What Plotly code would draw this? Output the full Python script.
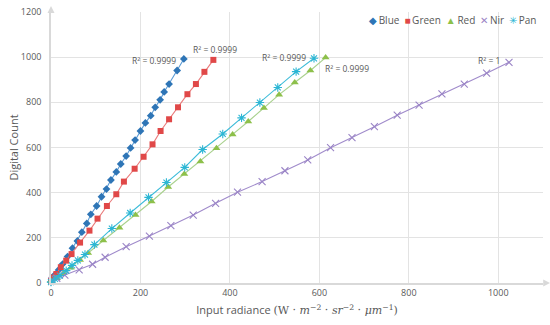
import plotly.graph_objects as go

# ---- data ----
blue_x = [0, 2, 8, 17, 26, 37, 48, 59, 69, 80, 89, 102, 113, 124, 134, 146, 156, 168, 178, 188, 200, 211, 223, 233, 244, 253, 264, 282, 297]
blue_y = [5, 18, 35, 58, 84, 117, 154, 186, 225, 264, 304, 341, 382, 416, 456, 492, 527, 562, 598, 633, 673, 709, 741, 778, 811, 846, 881, 941, 992]

green_x = [0, 6, 12, 22, 34, 46, 65, 86, 104, 125, 146, 163, 187, 207, 227, 245, 264, 284, 305, 324, 343, 363]
green_y = [9, 24, 40, 70, 99, 128, 179, 232, 285, 341, 393, 449, 506, 559, 614, 673, 725, 778, 836, 881, 935, 988]

red_x = [0, 13, 28, 44, 65, 83, 117, 153, 189, 225, 262, 298, 334, 370, 406, 441, 476, 510, 545, 580, 614]
red_y = [9, 21, 43, 68, 102, 133, 188, 245, 301, 361, 425, 483, 538, 597, 658, 715, 775, 834, 888, 941, 998]

nir_x = [2, 13, 31, 63, 93, 121, 168, 220, 268, 318, 368, 417, 472, 523, 574, 625, 673, 723, 774, 823, 874, 924, 974, 1024]
nir_y = [10, 21, 35, 58, 83, 114, 161, 208, 254, 301, 353, 402, 449, 497, 545, 599, 644, 692, 743, 788, 837, 881, 929, 977]

pan_x = [0, 9, 20, 34, 47, 60, 76, 97, 136, 177, 218, 258, 299, 339, 384, 426, 467, 507, 548, 588]
pan_y = [4, 18, 33, 55, 78, 100, 126, 170, 241, 310, 379, 445, 512, 591, 660, 731, 799, 866, 936, 995]

series_names = ["Blue", "Green", "Red", "Nir", "Pan"]
r2_labels = ["R² = 0.9999", "R² = 0.9999", "R² = 0.9999", "R² = 1", "R² = 0.9999"]
legend_glyphs = ["◆", "■", "▲", "✕", "✳"]

x_ticks = [0, 200, 400, 600, 800, 1000]
y_ticks = [0, 200, 400, 600, 800, 1000, 1200]

# ---- styles ----
styles = {
    "Blue":  dict(color="#2E75B6", line="#5B9BD5", symbol="diamond", size=6, lw=0),
    "Green": dict(color="#E04848", line="#EA7B7B", symbol="square", size=6, lw=0),
    "Red":   dict(color="#8DC04A", line="#A9D18E", symbol="triangle-up", size=7, lw=0),
    "Nir":   dict(color="#9A84C6", line="#A08BCB", symbol="x-thin-open", size=7, lw=1.1),
    "Pan":   dict(color="#2CB6D4", line="#3DBCD9", symbol="asterisk-open", size=7, lw=1.1),
}
data = {
    "Blue": (blue_x, blue_y),
    "Green": (green_x, green_y),
    "Red": (red_x, red_y),
    "Nir": (nir_x, nir_y),
    "Pan": (pan_x, pan_y),
}

fig = go.Figure()
for name in series_names:
    xs, ys = data[name]
    st = styles[name]
    fig.add_trace(go.Scatter(
        x=xs, y=ys, name=name, mode="lines+markers", showlegend=False,
        line=dict(color=st["line"], width=1.1),
        marker=dict(symbol=st["symbol"], size=st["size"], color=st["color"],
                    line=dict(color=st["color"], width=st["lw"])),
        cliponaxis=False,
    ))

# R² labels placed relative to each series' last point
label_pos = {
    "Blue":  dict(xanchor="right", yanchor="middle", xshift=-6, yshift=-2),
    "Green": dict(xanchor="center", yanchor="bottom", xshift=2, yshift=3),
    "Red":   dict(xanchor="left", yanchor="top", xshift=-3, yshift=-3),
    "Nir":   dict(xanchor="right", yanchor="middle", xshift=-7, yshift=2),
    "Pan":   dict(xanchor="right", yanchor="middle", xshift=-6, yshift=1),
}
annotations = []
for name, lab in zip(series_names, r2_labels):
    xs, ys = data[name]
    annotations.append(dict(x=xs[-1], y=ys[-1], xref="x", yref="y", text=lab,
                            showarrow=False, font=dict(size=8.5, color="#595959"),
                            **label_pos[name]))

# compact legend (Excel style) as one text line
legend_text = "\u2002".join(
    f'<span style="color:{styles[n]["color"]}">{g}</span>\u2009{n}'
    for n, g in zip(series_names, legend_glyphs)
)
annotations.append(dict(x=1.0, y=1.0, xref="paper", yref="paper", xanchor="right",
                        yanchor="middle", yshift=-8, xshift=-4, text=legend_text, showarrow=False,
                        font=dict(family="Open Sans", size=10, color="#595959")))

# axis arrows as small triangles (pixel sizes converted to paper units)
plot_w, plot_h = 550 - 51 - 7, 325 - 12 - 42
ax_len, ax_half = 7 / plot_w, 3.5 / plot_h
shapes = [
    dict(type="path", xref="paper", yref="paper",
         path=f"M {1 + 0.2/plot_w} {-ax_half} L {1 + 0.2/plot_w + ax_len} 0 L {1 + 0.2/plot_w} {ax_half} Z",
         fillcolor="#D9D9D9", line=dict(width=0)),
    dict(type="path", xref="paper", yref="paper",
         path=f"M {-3.5/plot_w} {1 - 1/plot_h} L 0 {1 + 6/plot_h} L {3.5/plot_w} {1 - 1/plot_h} Z",
         fillcolor="#D9D9D9", line=dict(width=0)),
]

xtitle = ('Input radiance <span style="font-family:\'DejaVu Serif\'">(W · <i>m</i><sup>−2</sup> · '
          '<i>sr</i><sup>−2</sup> · <i>μm</i><sup>−1</sup>)</span>')

fig.update_layout(
    width=550, height=325,
    margin=dict(l=51, r=7, t=12, b=42),
    paper_bgcolor="white", plot_bgcolor="white",
    font=dict(family="Open Sans", size=10, color="#595959"),
    showlegend=False,
    annotations=annotations,
    shapes=shapes,
    xaxis=dict(range=[0, 1100], tickvals=x_ticks, showgrid=True, gridcolor="#E3E3E3",
               gridwidth=1, showline=True, linecolor="#D9D9D9", linewidth=1.5,
               zeroline=False, ticks="", tickfont=dict(size=9, color="#595959"),
               automargin=False,
               title=dict(text=xtitle, font=dict(size=11, color="#595959"), standoff=9)),
    yaxis=dict(range=[0, 1200], tickvals=y_ticks, showgrid=True, gridcolor="#E3E3E3",
               gridwidth=1, showline=True, linecolor="#D9D9D9", linewidth=1.5,
               zeroline=False, ticks="", tickfont=dict(size=9, color="#595959"),
               ticklabelstandoff=6, automargin=False,
               title=dict(text="Digital Count", font=dict(size=11, color="#595959"), standoff=0)),
)

fig.write_html("out.html", config={"displayModeBar": False},
               post_script="document.body.style.margin='0';")
